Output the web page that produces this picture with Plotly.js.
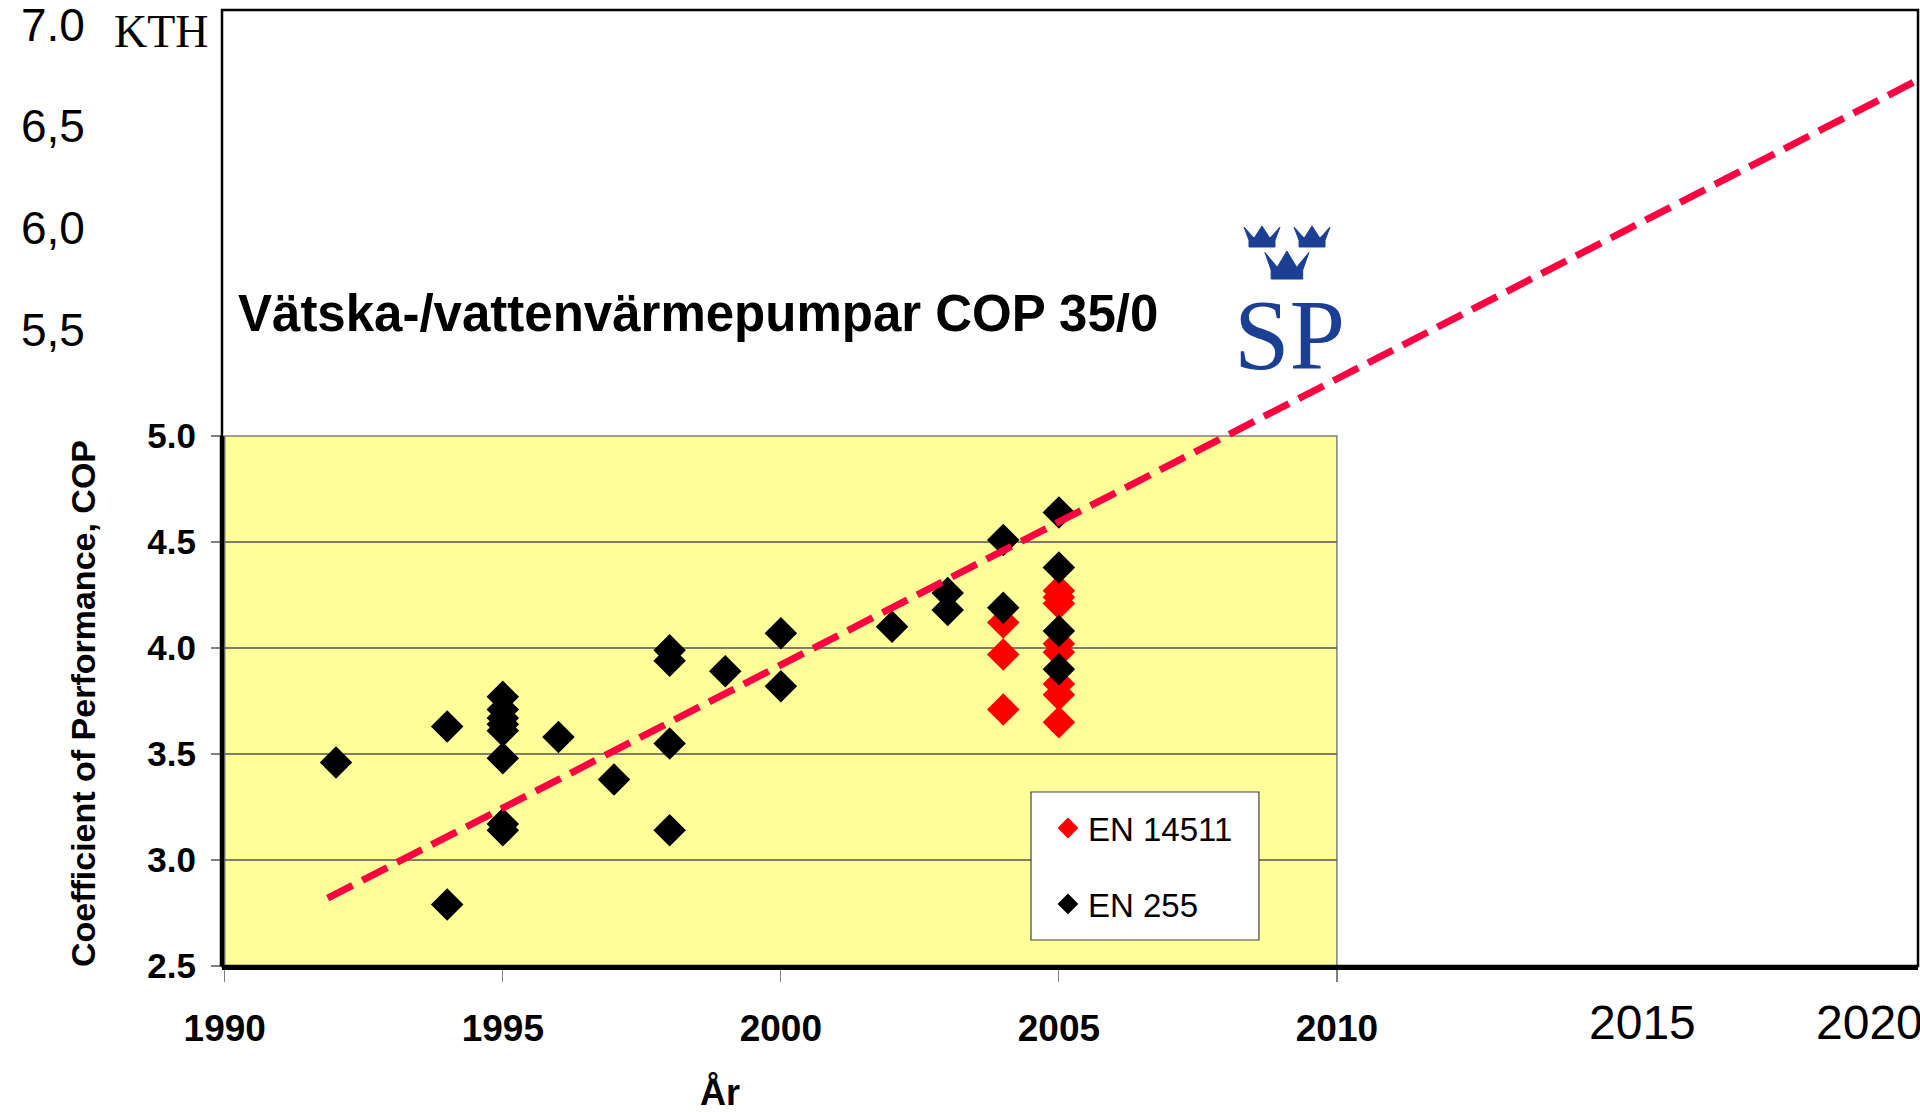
<!DOCTYPE html>
<html>
<head>
<meta charset="utf-8">
<script src="https://cdn.plot.ly/plotly-3.0.1.min.js"></script>
<style>html,body{margin:0;padding:0;background:#fff}#chart{width:1920px;height:1112px}</style>
</head>
<body>
<div id="chart"></div>
<script>
// ---------------- data ----------------
const en14511Years = [2004, 2004, 2004, 2005, 2005, 2005, 2005, 2005, 2005, 2005, 2005];
const en14511COP   = [4.12, 3.97, 3.71, 4.27, 4.24, 4.21, 4.02, 3.98, 3.83, 3.78, 3.65];

const en255Years = [1992, 1994, 1994, 1995, 1995, 1995, 1995, 1995, 1995, 1995, 1995,
                    1996, 1997, 1998, 1998, 1998, 1998, 1999, 2000, 2000, 2002, 2003, 2003,
                    2004, 2004, 2005, 2005, 2005, 2005];
const en255COP   = [3.46, 3.63, 2.79, 3.77, 3.71, 3.67, 3.64, 3.61, 3.48, 3.17, 3.14,
                    3.58, 3.38, 3.99, 3.94, 3.55, 3.14, 3.89, 4.07, 3.82, 4.10, 4.26, 4.18,
                    4.51, 4.19, 4.64, 4.38, 4.08, 3.90];

const trendYears = [1991.85, 2020.45];
const trendCOP   = [2.82, 6.68];

const innerXTicks = [1990, 1995, 2000, 2005, 2010];
const innerYTicks = [2.5, 3.0, 3.5, 4.0, 4.5, 5.0];
const gridValues  = [3.0, 3.5, 4.0, 4.5];
const outerYValues = [5.5, 6.0, 6.5, 7.0];
const outerYLabels = ['5,5', '6,0', '6,5', '7.0'];
const outerXLabels = ['2015', '2020'];

const titleText = 'Vätska-/vattenvärmepumpar COP 35/0';
const xTitle = 'År';
const yTitle = 'Coefficient of Performance, COP';

// ---------------- style ----------------
const SANS = 'Liberation Sans, Arial, sans-serif';
const SERIF = 'Liberation Serif, Times New Roman, serif';
const SP_BLUE = '#1b3f93';

const traces = [
  {type: 'scatter', mode: 'markers', name: 'EN 14511', legendgroup: 'a',
   x: en14511Years, y: en14511COP,
   marker: {symbol: 'diamond', size: 25, color: '#FF0000', line: {width: 0}}},
  {type: 'scatter', mode: 'markers', name: 'EN 255', legendgroup: 'b',
   x: en255Years, y: en255COP,
   marker: {symbol: 'diamond', size: 25, color: '#000000', line: {width: 0}}},
  {type: 'scatter', mode: 'lines', showlegend: false,
   x: trendYears, y: trendCOP,
   line: {color: '#FF0040', width: 7, dash: '28px,11px'}}
];

function crownPath(w, h) {
  const pts = [[-0.5, 0.95], [-0.22, 0.42], [0, 1.0], [0.22, 0.42], [0.5, 0.95],
               [0.36, 0.32], [0.36, 0], [-0.36, 0], [-0.36, 0.32]];
  return 'M' + pts.map(p => (p[0] * w).toFixed(1) + ',' + (p[1] * h).toFixed(1)).join('L') + 'Z';
}
function crown(xa, ya, w, h) {
  return {type: 'path', xref: 'paper', yref: 'paper', xsizemode: 'pixel', ysizemode: 'pixel',
          xanchor: xa, yanchor: ya, path: crownPath(w, h),
          fillcolor: SP_BLUE, line: {color: SP_BLUE, width: 1}, layer: 'above'};
}

const shapes = [
  {type: 'rect', xref: 'x', yref: 'y', x0: innerXTicks[0], x1: innerXTicks[innerXTicks.length - 1],
   y0: innerYTicks[0], y1: innerYTicks[innerYTicks.length - 1],
   fillcolor: '#FFFF99', line: {color: '#808080', width: 1.5}, layer: 'below'},
  ...gridValues.map(v => ({type: 'line', xref: 'x', yref: 'y',
   x0: innerXTicks[0], x1: innerXTicks[innerXTicks.length - 1], y0: v, y1: v,
   line: {color: '#555555', width: 1.5}, layer: 'below'})),
  {type: 'rect', xref: 'paper', yref: 'paper', x0: 0, x1: 1, y0: 0, y1: 1,
   line: {color: '#000', width: 2.5}, layer: 'above'},
  {type: 'line', xref: 'paper', yref: 'y', x0: 0, x1: 0,
   y0: innerYTicks[0], y1: innerYTicks[innerYTicks.length - 1],
   line: {color: '#000', width: 4.5}, layer: 'above'},
  // legend box
  {type: 'rect', xref: 'paper', yref: 'paper', x0: 0.477, x1: 0.6114, y0: 0.0272, y1: 0.182,
   fillcolor: '#FFFFFF', line: {color: '#404040', width: 1.2}, layer: 'above'},
  // SP crowns
  crown(0.6132, 0.7521, 36, 21),
  crown(0.6427, 0.7521, 36, 21),
  crown(0.6279, 0.7186, 44, 28)
];

const annotations = [
  {text: titleText, xref: 'paper', yref: 'y', x: 0.0083, y: 5.58, xanchor: 'left', yanchor: 'middle',
   showarrow: false, font: {family: SANS, size: 51, color: '#000', weight: 'bold'}},
  {text: 'SP', xref: 'paper', yref: 'paper', x: 0.6297, y: 0.661, xanchor: 'center', yanchor: 'middle',
   showarrow: false, font: {family: SERIF, size: 100, color: SP_BLUE}},
  {text: 'KTH', xref: 'paper', yref: 'paper', x: -0.0354, y: 0.977, xanchor: 'center', yanchor: 'middle',
   showarrow: false, font: {family: SERIF, size: 46, color: '#000'}},
  ...outerYValues.map((v, i) => ({text: outerYLabels[i], xref: 'paper', yref: 'y', x: -0.0997, y: v,
   yshift: -(v - 5.5) * 8.3, xanchor: 'center', yanchor: 'middle', showarrow: false,
   font: {family: SANS, size: 46, color: '#000'}})),
  {text: outerXLabels[0], xref: 'x', yref: 'paper', x: 2015, xshift: 28, y: -0.0586,
   xanchor: 'center', yanchor: 'middle', showarrow: false, font: {family: SANS, size: 48, color: '#000'}},
  {text: outerXLabels[1], xref: 'x', yref: 'paper', x: 2020, xshift: -23, y: -0.0586,
   xanchor: 'center', yanchor: 'middle', showarrow: false, font: {family: SANS, size: 48, color: '#000'}},
  {text: xTitle, xref: 'x', yref: 'paper', x: 1998.9, y: -0.132, xanchor: 'center', yanchor: 'middle',
   showarrow: false, font: {family: SANS, size: 36, color: '#000', weight: 'bold'}},
  {text: yTitle, xref: 'paper', yref: 'y', x: -0.082, y: 3.74, textangle: -90,
   xanchor: 'center', yanchor: 'middle', showarrow: false,
   font: {family: SANS, size: 34, color: '#000', weight: 'bold'}}
];

const layout = {
  width: 1920, height: 1112,
  margin: {l: 222, r: 2, t: 10, b: 146, pad: 0},
  paper_bgcolor: '#FFFFFF', plot_bgcolor: '#FFFFFF',
  showlegend: true,
  legend: {x: 0.487, y: 0.1736, xanchor: 'left', yanchor: 'top',
           bgcolor: 'rgba(0,0,0,0)', borderwidth: 0, traceorder: 'grouped', tracegroupgap: 30,
           font: {family: SANS, size: 33, color: '#000'}},
  xaxis: {range: [1989.95, 2020.45], tickvals: innerXTicks, ticktext: innerXTicks.map(String),
          ticks: 'outside', ticklen: 12, tickwidth: 1.2, tickcolor: '#808080',
          tickfont: {family: SANS, size: 37, color: '#000', weight: 'bold'}, ticklabelstandoff: 15,
          showline: true, linewidth: 4, linecolor: '#000', showgrid: false, zeroline: false},
  yaxis: {range: [2.5, 7.01], tickvals: innerYTicks, ticktext: innerYTicks.map(v => v.toFixed(1)),
          ticks: 'outside', ticklen: 10, tickwidth: 1.2, tickcolor: '#808080',
          tickfont: {family: SANS, size: 35, color: '#000', weight: 'bold'}, ticklabelstandoff: 8,
          showline: false, showgrid: false, zeroline: false},
  shapes: shapes,
  annotations: annotations,
  hovermode: false
};

Plotly.newPlot('chart', traces, layout, {displayModeBar: false, staticPlot: true});
</script>
</body>
</html>
